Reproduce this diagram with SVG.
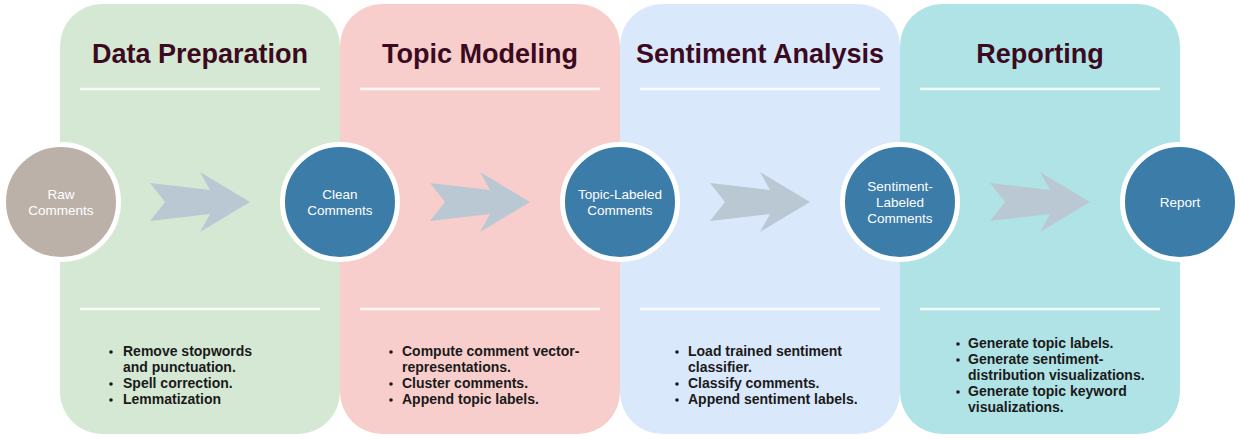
<svg xmlns="http://www.w3.org/2000/svg" width="1241" height="439" viewBox="0 0 1241 439">
<style>
.panel{stroke:none}
.sep{stroke:#ffffff;stroke-width:2.5;opacity:0.85}
.title{font-family:"Liberation Sans",Arial,sans-serif;font-weight:bold;font-size:27px;fill:#3b0a20;text-anchor:middle}
.node{stroke:#ffffff;stroke-width:5}
.ntext{font-family:"Liberation Sans",Arial,sans-serif;font-size:13.5px;fill:#ffffff;text-anchor:middle}
.bul{font-family:"Liberation Sans",Arial,sans-serif;font-weight:bold;font-size:14px;fill:#1a1a1a}
.dot{fill:#1a1a1a}
.arrow{fill:#bac8d3}
</style>
<defs>
<polygon id="arr" points="150,183 210,190 200,172 250,202 200,232 210,214 150,221 165,202"/>
</defs>
<g id="panel-data-preparation">
<rect class="panel" x="60" y="4" width="280" height="430" rx="42" fill="#d5e8d4"/>
<text class="title" x="200" y="63">Data Preparation</text>
<line class="sep" x1="80" y1="89" x2="320" y2="89"/>
<line class="sep" x1="80" y1="309" x2="320" y2="309"/>
<circle class="dot" cx="111" cy="352" r="1.8"/><circle class="dot" cx="111" cy="384" r="1.8"/><circle class="dot" cx="111" cy="400" r="1.8"/>
<text class="bul"><tspan x="123" y="356">Remove stopwords</tspan><tspan x="123" y="372">and punctuation.</tspan><tspan x="123" y="388">Spell correction.</tspan><tspan x="123" y="404">Lemmatization</tspan></text>
</g>
<g id="panel-topic-modeling">
<rect class="panel" x="340" y="4" width="280" height="430" rx="42" fill="#f8cecc"/>
<text class="title" x="480" y="63">Topic Modeling</text>
<line class="sep" x1="360" y1="89" x2="600" y2="89"/>
<line class="sep" x1="360" y1="309" x2="600" y2="309"/>
<circle class="dot" cx="391" cy="352" r="1.8"/><circle class="dot" cx="391" cy="384" r="1.8"/><circle class="dot" cx="391" cy="400" r="1.8"/>
<text class="bul"><tspan x="402" y="356">Compute comment vector-</tspan><tspan x="402" y="372">representations.</tspan><tspan x="402" y="388">Cluster comments.</tspan><tspan x="402" y="404">Append topic labels.</tspan></text>
</g>
<g id="panel-sentiment-analysis">
<rect class="panel" x="620" y="4" width="280" height="430" rx="42" fill="#dae8fc"/>
<text class="title" x="760" y="63">Sentiment Analysis</text>
<line class="sep" x1="640" y1="89" x2="880" y2="89"/>
<line class="sep" x1="640" y1="309" x2="880" y2="309"/>
<circle class="dot" cx="677" cy="352" r="1.8"/><circle class="dot" cx="677" cy="384" r="1.8"/><circle class="dot" cx="677" cy="400" r="1.8"/>
<text class="bul"><tspan x="688" y="356">Load trained sentiment</tspan><tspan x="688" y="372">classifier.</tspan><tspan x="688" y="388">Classify comments.</tspan><tspan x="688" y="404">Append sentiment labels.</tspan></text>
</g>
<g id="panel-reporting">
<rect class="panel" x="900" y="4" width="280" height="430" rx="42" fill="#b0e3e6"/>
<text class="title" x="1040" y="63">Reporting</text>
<line class="sep" x1="920" y1="89" x2="1160" y2="89"/>
<line class="sep" x1="920" y1="309" x2="1160" y2="309"/>
<circle class="dot" cx="958" cy="344" r="1.8"/><circle class="dot" cx="958" cy="360" r="1.8"/><circle class="dot" cx="958" cy="392" r="1.8"/>
<text class="bul"><tspan x="968" y="348">Generate topic labels.</tspan><tspan x="968" y="364">Generate sentiment-</tspan><tspan x="968" y="380">distribution visualizations.</tspan><tspan x="968" y="396">Generate topic keyword</tspan><tspan x="968" y="412">visualizations.</tspan></text>
</g>
<g id="connectors">
<use href="#arr" class="arrow"/>
<use href="#arr" class="arrow" x="280"/>
<use href="#arr" class="arrow" x="560"/>
<use href="#arr" class="arrow" x="840"/>
</g>
<g id="node-raw-comments">
<circle class="node" cx="61" cy="202" r="57.5" fill="#bcb1a8"/>
<text class="ntext"><tspan x="61" y="199">Raw</tspan><tspan x="61" y="215">Comments</tspan></text>
</g>
<g id="node-clean-comments">
<circle class="node" cx="340" cy="202" r="57.5" fill="#3b7ca8"/>
<text class="ntext"><tspan x="340" y="199">Clean</tspan><tspan x="340" y="215">Comments</tspan></text>
</g>
<g id="node-topic-labeled-comments">
<circle class="node" cx="620" cy="202" r="57.5" fill="#3b7ca8"/>
<text class="ntext"><tspan x="620" y="199">Topic-Labeled</tspan><tspan x="620" y="215">Comments</tspan></text>
</g>
<g id="node-sentiment-labeled-comments">
<circle class="node" cx="900" cy="202" r="57.5" fill="#3b7ca8"/>
<text class="ntext"><tspan x="900" y="191">Sentiment-</tspan><tspan x="900" y="207">Labeled</tspan><tspan x="900" y="223">Comments</tspan></text>
</g>
<g id="node-report">
<circle class="node" cx="1180" cy="202" r="57.5" fill="#3b7ca8"/>
<text class="ntext" x="1180" y="207">Report</text>
</g>
</svg>
